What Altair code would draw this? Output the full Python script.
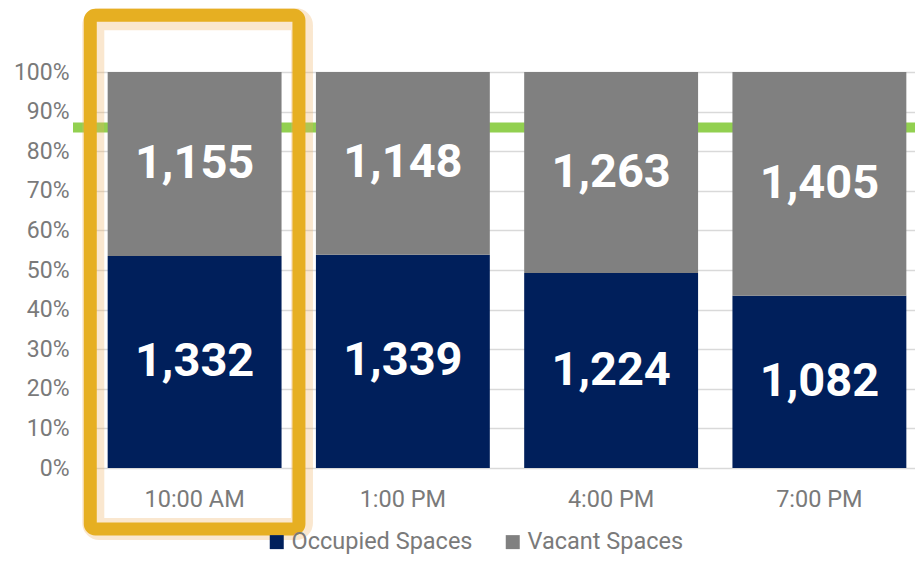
import altair as alt
import pandas as pd

times = ["10:00 AM", "1:00 PM", "4:00 PM", "7:00 PM"]
occupied = [1332, 1339, 1224, 1082]
vacant = [1155, 1148, 1263, 1405]
series = ["Occupied Spaces", "Vacant Spaces"]
colors = ["#001f5b", "#808080"]
y_ticks = [0.0, 0.1, 0.2, 0.3, 0.4, 0.5, 0.6, 0.7, 0.8, 0.9, 1.0]
target = 0.86
highlight_time = "10:00 AM"
highlight_top = 1.143
highlight_bottom = -0.154

rows = []
for t, o, v in zip(times, occupied, vacant):
    rows.append({"time": t, "series": series[0], "value": o, "ord": 0})
    rows.append({"time": t, "series": series[1], "value": v, "ord": 1})
df = pd.DataFrame(rows)

FONT = "Roboto"
AXIS_COLOR = "#7a7a7a"

x_scale = alt.Scale(range=[0, 832], paddingInner=0.165, paddingOuter=0.08)
y_scale = alt.Scale(domain=[0, 1], nice=False)

x_axis = alt.Axis(title=None, labelAngle=0, domain=False, ticks=False,
                  labelFontSize=23.5, labelColor=AXIS_COLOR, labelFont=FONT,
                  labelPadding=19, grid=False)
y_axis = alt.Axis(title=None, format=".0%", values=y_ticks,
                  domain=False, ticks=False, labelFontSize=23,
                  labelColor=AXIS_COLOR, labelFont=FONT, labelPadding=22,
                  labelOverlap=False, grid=True, gridColor="#d9d9d9", gridWidth=1.5)


def X():
    return alt.X("time:N", sort=times, scale=x_scale, axis=x_axis)


def Y(field):
    return alt.Y(field, scale=y_scale, axis=y_axis)


base = alt.Chart(df).transform_stack(
    stack="value", groupby=["time"], as_=["v0", "v1"],
    offset="normalize", sort=[alt.SortField("ord", order="ascending")],
).transform_calculate(mid="(datum.v0 + datum.v1) / 2")

bars = base.mark_bar(width=alt.RelativeBandSize(1.0)).encode(
    x=X(),
    y=Y("v0:Q"),
    y2="v1:Q",
    color=alt.Color("series:N", scale=alt.Scale(domain=series, range=colors),
                    legend=alt.Legend(title=None, orient="none", direction="horizontal",
                                      legendX=174, legendY=458, symbolType="square",
                                      symbolSize=196, symbolStrokeWidth=0,
                                      labelFontSize=23.5, labelColor=AXIS_COLOR,
                                      labelFont=FONT, labelOffset=3, columnPadding=28,
                                      labelLimit=400, padding=0)),
)

labels = base.mark_text(color="white", fontSize=47, fontWeight="bold", font=FONT,
                        baseline="middle", align="center").encode(
    x=X(),
    y=Y("mid:Q"),
    text=alt.Text("value:Q", format=","),
)

rule = alt.Chart(pd.DataFrame({"t": [target]})).mark_rule(
    color="#92d050", strokeWidth=10).encode(
    y=Y("t:Q"), x=alt.value(-18), x2=alt.value(832))

hl = pd.DataFrame({"time": [highlight_time], "top": [highlight_top], "bottom": [highlight_bottom]})
glow = alt.Chart(hl).mark_bar(fill="transparent", stroke="#f0b060", strokeWidth=22,
                              strokeOpacity=0.3, cornerRadius=6, clip=False,
                              width=alt.RelativeBandSize(1.2), xOffset=3, yOffset=4).encode(
    x=X(), y=Y("top:Q"), y2="bottom:Q")
box = alt.Chart(hl).mark_bar(fill="transparent", stroke="#e6af22", strokeWidth=13,
                             cornerRadius=5, clip=False,
                             width=alt.RelativeBandSize(1.2)).encode(
    x=X(), y=Y("top:Q"), y2="bottom:Q")

chart = alt.layer(rule, bars, labels, glow, box).properties(
    width=824, height=396,
    autosize=alt.AutoSizeParams(type="none"),
    padding={"left": 83, "top": 64, "right": 0, "bottom": 87},
    background="white",
).configure_view(stroke=None)

chart.save("out.html", embed_options={"renderer": "svg", "actions": False})
